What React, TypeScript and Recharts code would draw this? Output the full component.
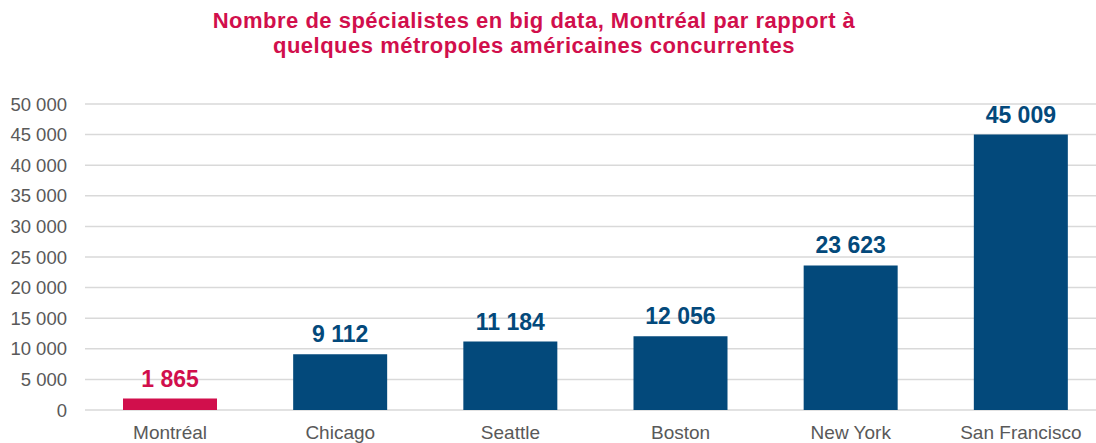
import React from 'react';
import { BarChart, Bar, XAxis, YAxis, CartesianGrid, Cell, LabelList } from 'recharts';

const cities = ['Montréal', 'Chicago', 'Seattle', 'Boston', 'New York', 'San Francisco'];
const specialists = [1865, 9112, 11184, 12056, 23623, 45009];
const yTicks = [0, 5000, 10000, 15000, 20000, 25000, 30000, 35000, 40000, 45000, 50000];
const titleLines = [
  'Nombre de spécialistes en big data, Montréal par rapport à',
  'quelques métropoles américaines concurrentes',
];

const NAVY = '#03497B';
const CRIMSON = '#D10F4C';

const data = cities.map((city, i) => ({ city, value: specialists[i] }));

const fmt = (v: number) => String(v).replace(/\B(?=(\d{3})+(?!\d))/g, ' ');

const ValueLabel = (props: any) => {
  const { x, y, width, value, index } = props;
  return (
    <text
      x={x + width / 2}
      y={y - 12}
      textAnchor="middle"
      fill={index === 0 ? CRIMSON : NAVY}
      fontSize={23}
      fontWeight="bold"
      fontFamily="'Liberation Sans', Arial, sans-serif"
    >
      {fmt(value)}
    </text>
  );
};

export default function App() {
  return (
    <div style={{ position: 'fixed', left: 0, top: 0, width: 1096, height: 443, overflow: 'hidden', background: '#fff' }}>
      <div
        style={{
          position: 'absolute',
          left: 0,
          top: 8,
          width: 1068,
          textAlign: 'center',
          color: CRIMSON,
          fontFamily: "'Liberation Sans', Arial, sans-serif",
          fontWeight: 'bold',
          fontSize: 22,
          lineHeight: '25px',
          letterSpacing: 0.5,
        }}
      >
        {titleLines.map((l) => (
          <div key={l}>{l}</div>
        ))}
      </div>
      <div style={{ position: 'absolute', left: 0, top: 0 }}>
        <BarChart
          width={1120}
          height={443}
          data={data}
          margin={{ top: 104, right: 14, bottom: 0, left: 0 }}
          barSize={94}
        >
          <CartesianGrid vertical={false} stroke="#D9D9D9" strokeWidth={1.5} />
          <XAxis
            dataKey="city"
            axisLine={false}
            tickLine={false}
            height={33}
            tickMargin={10}
            interval={0}
            tick={{ fill: '#595959', fontSize: 19, fontFamily: "'Liberation Sans', Arial, sans-serif" }}
          />
          <YAxis
            width={85}
            domain={[0, 50000]}
            ticks={yTicks}
            axisLine={false}
            tickLine={false}
            tickMargin={12}
            tickFormatter={fmt}
            tick={{ fill: '#595959', fontSize: 18.5, fontFamily: "'Liberation Sans', Arial, sans-serif" }}
          />
          <Bar dataKey="value" isAnimationActive={false}>
            {data.map((d, i) => (
              <Cell key={d.city} fill={i === 0 ? CRIMSON : NAVY} />
            ))}
            <LabelList dataKey="value" content={ValueLabel} />
          </Bar>
        </BarChart>
      </div>
    </div>
  );
}
